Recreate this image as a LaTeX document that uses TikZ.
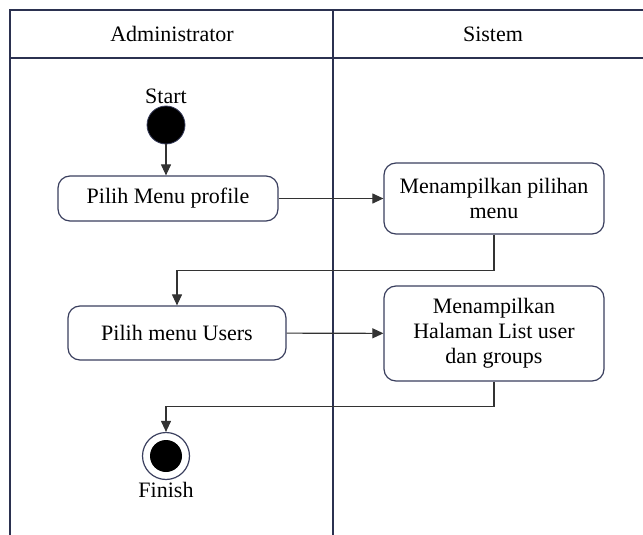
\documentclass[tikz,border=0pt]{standalone}
\usepackage{fontspec}
\setmainfont{Liberation Serif}
\usetikzlibrary{arrows.meta}
\definecolor{lane}{HTML}{2B3150}
\definecolor{boxline}{HTML}{3A3F5E}
\definecolor{flow}{HTML}{333333}
\begin{document}
\begin{tikzpicture}[x=1pt,y=-1pt,
  font=\fontsize{22}{25}\selectfont,
  lanerule/.style={draw=lane,line width=1.4pt},
  action/.style={draw=boxline,line width=1.2pt,rounded corners=12pt,
    align=center,inner sep=0pt,fill=white},
  flowline/.style={draw=flow,line width=1.1pt,-{Triangle[length=11pt,width=10pt]}},
  label/.style={inner sep=0pt}]
\useasboundingbox (0,0) rectangle (643,535);
% swimlane frame
\draw[lanerule] (10,535) -- (10,10) -- (643,10);
\draw[lanerule] (10,58) -- (643,58);
\draw[lanerule] (333,10) -- (333,535);
\node[label] (hadmin) at (172,34) {Administrator};
\node[label] (hsys) at (493,34) {Sistem};
% start and finish
\node[label] (startlbl) at (166,96) {Start};
\node[circle,fill=black,draw=boxline,line width=0.8pt,minimum size=38pt,inner sep=0pt] (start) at (166,125) {};
\node[circle,draw=boxline,line width=1.2pt,minimum size=47pt,inner sep=0pt] (finish) at (166,456) {};
\node[circle,fill=black,minimum size=32pt,inner sep=0pt] (finishdot) at (166,456) {};
\node[label] (finishlbl) at (166,490) {Finish};
% actions
\node[action,minimum width=220pt,minimum height=45pt] (profile) at (168,198.5) {Pilih Menu profile};
\node[action,minimum width=220pt,minimum height=71pt] (menu) at (494,198.5) {Menampilkan pilihan\\menu};
\node[action,minimum width=218pt,minimum height=54pt] (users) at (177,333) {Pilih menu Users};
\node[action,minimum width=220pt,minimum height=95pt] (list) at (494,333.5) {Menampilkan\\Halaman List user\\dan groups};
% control flow
\draw[flowline] (start) -- (profile.north -| start);
\draw[flowline] (profile) -- (menu);
\draw[flowline] (menu.south) -- ++(0,36) -| (users.north);
\draw[flowline] (users) -- (list);
\draw[flowline] (list.south) -- ++(0,25) -| (finish.north);
\end{tikzpicture}
\end{document}
